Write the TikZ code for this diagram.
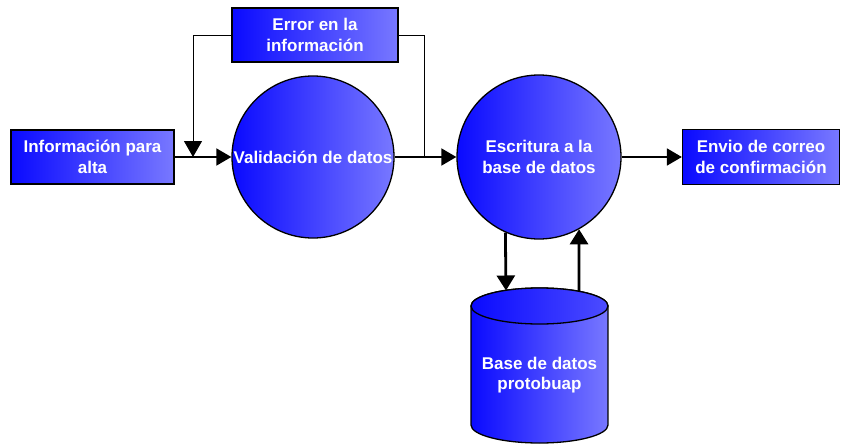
\documentclass[tikz,border=0pt]{standalone}
\usepackage{fontspec}
\setmainfont{Liberation Sans}
\usetikzlibrary{arrows.meta,calc}
\definecolor{gleft}{HTML}{0A0AFF}
\definecolor{gright}{HTML}{7878FF}
\begin{document}
\begin{tikzpicture}[x=1pt,y=-1pt,
  txt/.style={text=white,font=\fontsize{17}{20.5}\selectfont\bfseries,align=center},
  boxnode/.style={txt,draw=black,line width=1.3pt,left color=gleft,right color=gright,inner sep=2pt},
  circnode/.style={txt,draw=black,line width=1.3pt,circle,left color=gleft,right color=gright,inner sep=0pt},
  flow/.style={line width=1.8pt,-{Triangle[length=15pt,width=17pt]}},
  thin/.style={line width=0.9pt},
  vflow/.style={line width=2.8pt,-{Triangle[length=15pt,width=18pt]}}]
\useasboundingbox (0,0) rectangle (841,444);
\fill[white] (0,0) rectangle (841,444);
% nodes
\node[boxnode,minimum width=163pt,minimum height=54pt] (info) at (92.5,157) {Información para\\alta};
\node[boxnode,minimum width=166pt,minimum height=54pt] (err) at (315,35) {Error en la\\información};
\node[circnode,minimum size=162pt] (val) at (313,157) {Validación de datos};
\node[circnode,minimum size=164pt] (esc) at (539,157) {Escritura a la\\base de datos};
\node[boxnode,minimum width=157pt,minimum height=55pt] (envio) at (761,157) {Envio de correo\\de confirmación};
% cylinder
\path[draw=black,line width=1.3pt,left color=gleft,right color=gright]
  (471,306) -- (471,425) arc[start angle=180,end angle=0,x radius=68.5,y radius=18]
  -- (608,306) arc[start angle=0,end angle=-180,x radius=68.5,y radius=18] -- cycle;
\path[draw=black,line width=1.3pt,left color=gleft,right color=gright!60!gleft]
  (539.5,306) ellipse[x radius=68.5,y radius=18];
\node[txt] (db) at (539.5,375) {Base de datos\\protobuap};
\coordinate (dbL) at (506,290.5);
\coordinate (dbR) at (579,291.3);
\coordinate (fbL) at (193,157);
\coordinate (fbR) at (424,157);
% connectors
\draw[flow] (info.east) -- (val.west);
\draw[flow] (val.east) -- (esc.west);
\draw[flow] (esc.east) -- (envio.west);
\draw[thin,-{Triangle[length=16pt,width=18pt]}] (err.west) -| (fbL);
\draw[thin] (err.east) -| (fbR);
\draw[vflow] (esc.246) -- (dbL);
\draw[vflow] (dbR) -- (esc.299);
\end{tikzpicture}
\end{document}
